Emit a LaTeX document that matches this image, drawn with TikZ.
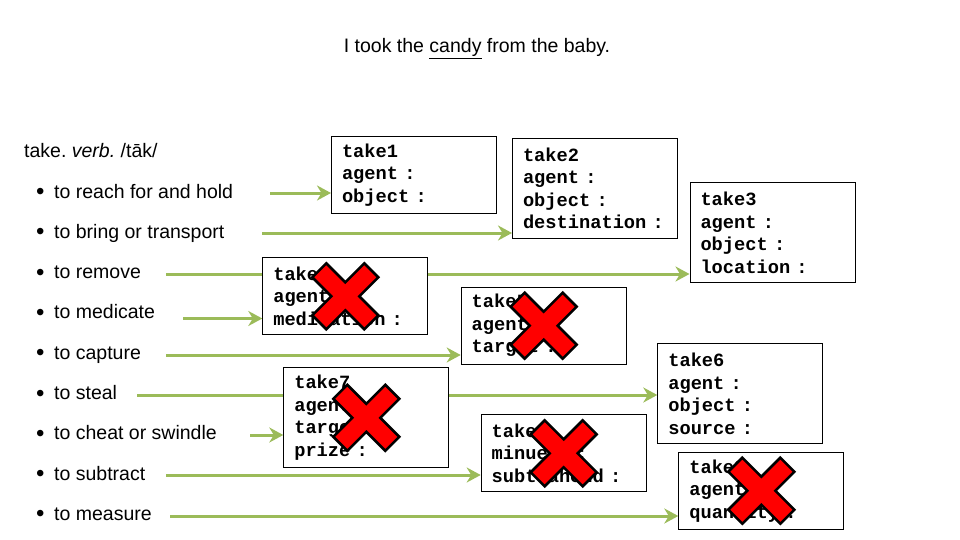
\documentclass[tikz,border=0pt]{standalone}
\usepackage{fontspec}
\setmainfont{Liberation Sans}
\setmonofont{Liberation Mono}
\usepackage{tikz}
\usetikzlibrary{arrows.meta}
\usetikzlibrary{backgrounds}

\definecolor{sensegreen}{HTML}{9BBB59}
\newcommand{\sensebullet}{\makebox[18pt][l]{\raisebox{-1.5pt}{\fontsize{24}{24}\selectfont •}}}
\frenchspacing

\begin{document}
\begin{tikzpicture}[x=1pt, y=-1pt,
    sense/.style={anchor=base west, inner sep=0pt, font=\fontsize{19.5}{23}\selectfont},
    frame/.style={draw, line width=1pt, fill=white, anchor=north west,
        minimum width=165pt, minimum height=77pt, text width=144pt,
        inner xsep=10.5pt, inner ysep=0pt, align=left,
        font=\fontsize{18.7}{22.5}\selectfont\ttfamily\bfseries},
    tallframe/.style={frame, minimum height=100pt},
    link/.style={sensegreen, line width=3pt, -{Stealth[length=14pt, width=15pt, inset=4.5pt]}},
    nope/.pic={\filldraw[fill=red, draw=black, line width=2.5pt, line join=miter]
        (0,14) -- (19,33) -- (33,19) -- (14,0) -- (33,-19) -- (19,-33) -- (0,-14)
        -- (-19,-33) -- (-33,-19) -- (-14,0) -- (-33,19) -- (-19,33) -- cycle;}]
    \useasboundingbox (0,0) rectangle (960,540);

    \node[sense, anchor=base] (title) at (477,53) {I took the \underline{candy} from the baby.};
    \node[sense] (head) at (24,158) {take. \textit{verb.} /tāk/};

    % senses
    \node[sense] (s1) at (36,198) {\sensebullet to reach for and hold};
    \node[sense] (s2) at (36,238.3) {\sensebullet to bring or transport};
    \node[sense] (s3) at (36,278.6) {\sensebullet to remove};
    \node[sense] (s4) at (36,318.9) {\sensebullet to medicate};
    \node[sense] (s5) at (36,359.2) {\sensebullet to capture};
    \node[sense] (s6) at (36,399.5) {\sensebullet to steal};
    \node[sense] (s7) at (36,439.8) {\sensebullet to cheat or swindle};
    \node[sense] (s8) at (36,480.1) {\sensebullet to subtract};
    \node[sense] (s9) at (36,520.4) {\sensebullet to measure};

    % frames
    \node[frame] (t1) at (331,135.7) {take1\\agent~:\\object~:};
    \node[tallframe] (t2) at (512,137.7) {take2\\agent~:\\object~:\\destination~:};
    \node[tallframe] (t3) at (689.5,182.3) {take3\\agent~:\\object~:\\location~:};
    \node[frame] (t4) at (262.3,257.3) {take4\\agent~:\\medication~:};
    \node[frame] (t5) at (460.7,286.7) {take5\\agent~:\\target~:};
    \node[tallframe] (t6) at (657.3,343.3) {take6\\agent~:\\object~:\\source~:};
    \node[tallframe] (t7) at (283.3,367.3) {take7\\agent~:\\target~:\\prize~:};
    \node[frame] (t8) at (480.7,414.3) {take8\\minuend~:\\subtrahend~:};
    \node[frame] (t9) at (678.3,451.7) {take9\\agent~:\\quantity~:};

    \begin{scope}[on background layer]
        \foreach \k/\x/\y in {1/270/193, 2/262/233, 3/166/274, 4/183/318.5, 5/166/355,
                6/137/395, 7/250/435, 8/166/475, 9/170/516} {
            \coordinate (a\k) at (\x,\y);
            \draw[link] (a\k) -- (a\k -| t\k.west);
        }
    \end{scope}

    \foreach \k in {4,5,7,8,9}
        \pic at (t\k.center) {nope};
\end{tikzpicture}
\end{document}
